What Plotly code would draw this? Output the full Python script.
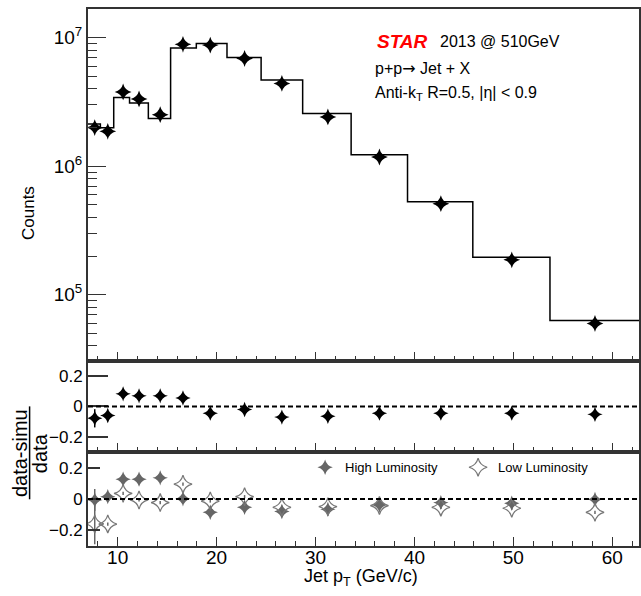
import plotly.graph_objects as go

# ---------------- data ----------------
bin_edges = [7.0, 8.25, 9.6, 11.2, 13.1, 15.35, 17.95, 21.05, 24.5, 28.7, 33.6, 39.3, 45.9, 53.7, 62.7]
simu_counts = [2.13e6, 1.99e6, 3.43e6, 3.11e6, 2.35e6, 8.31e6, 9.04e6, 7.03e6, 4.70e6, 2.57e6,
               1.23e6, 5.3e5, 1.96e5, 6.3e4]
jet_pt = [7.68, 9.0, 10.55, 12.16, 14.3, 16.6, 19.36, 22.83, 26.6, 31.25, 36.46, 42.67, 49.84, 58.25]
data_counts = [2.0e6, 1.87e6, 3.79e6, 3.34e6, 2.52e6, 8.89e6, 8.77e6, 6.90e6, 4.41e6, 2.42e6,
               1.18e6, 5.11e5, 1.87e5, 5.97e4]
ratio_all = [-0.078, -0.059, 0.083, 0.070, 0.070, 0.056, -0.044, -0.020, -0.070, -0.064,
             -0.044, -0.044, -0.044, -0.052]
ratio_all_err = [0.06, 0.01, 0.01, 0.01, 0.01, 0.01, 0.005, 0.005, 0.005, 0.005, 0.005, 0.005, 0.005, 0.005]
ratio_high = [-0.006, 0.015, 0.127, 0.127, 0.135, 0.002, -0.085, -0.053, -0.080, -0.066,
              -0.038, -0.023, -0.027, -0.002]
ratio_high_err = [0.07, 0.01, 0.01, 0.01, 0.01, 0.01, 0.01, 0.01, 0.01, 0.01, 0.01, 0.01, 0.01, 0.01]
ratio_low = [-0.159, -0.160, 0.036, -0.006, -0.023, 0.095, -0.013, 0.015, -0.053, -0.049,
             -0.042, -0.053, -0.059, -0.085]
ratio_low_err = [0.13, 0.01, 0.01, 0.01, 0.01, 0.01, 0.01, 0.01, 0.01, 0.01, 0.01, 0.01, 0.01, 0.01]

FONT = "Liberation Sans, Arial, Helvetica, sans-serif"
AX = "#333333"
GRAY = "#666666"
MS = 11

fig = go.Figure()

# histogram (simulation) as step line
hx = list(bin_edges)
hy = list(simu_counts) + [simu_counts[-1]]
fig.add_trace(go.Scatter(x=hx, y=hy, mode="lines", line=dict(color="black", width=1.5, shape="hv"),
                         xaxis="x", yaxis="y", showlegend=False, hoverinfo="skip"))
# data points
fig.add_trace(go.Scatter(x=jet_pt, y=data_counts, mode="markers",
                         marker=dict(symbol="star-diamond", size=MS + 1, color="black"),
                         xaxis="x", yaxis="y", showlegend=False))
# middle ratio
fig.add_trace(go.Scatter(x=jet_pt, y=ratio_all, mode="markers",
                         marker=dict(symbol="star-diamond", size=MS, color="black"),
                         error_y=dict(type="data", array=ratio_all_err, color="black", thickness=1.5, width=0),
                         xaxis="x2", yaxis="y2", showlegend=False))
# bottom ratios
fig.add_trace(go.Scatter(x=jet_pt, y=ratio_high, mode="markers", name="High Luminosity",
                         marker=dict(symbol="star-diamond", size=MS, color=GRAY),
                         error_y=dict(type="data", array=ratio_high_err, color=GRAY, thickness=1.5, width=0),
                         xaxis="x3", yaxis="y3", showlegend=True))
fig.add_trace(go.Scatter(x=jet_pt, y=ratio_low, mode="markers", name="Low Luminosity",
                         marker=dict(symbol="star-diamond-open", size=MS + 2, color="#777777",
                                     line=dict(width=1.2, color="#777777")),
                         error_y=dict(type="data", array=ratio_low_err, color=GRAY, thickness=1.5, width=0),
                         xaxis="x3", yaxis="y3", showlegend=True))

xr = [7.0, 62.7]
dom_bot = [0.0, 0.175]
dom_mid = [0.175, 0.3447]
dom_top = [0.3447, 1.0]

def xaxis(domain_anchor, show_labels):
    return dict(range=xr, anchor=domain_anchor, showline=True, mirror=True, linecolor=AX, linewidth=2,
                ticks="inside", ticklen=9, tickwidth=1, tickcolor=AX, tickvals=[10, 20, 30, 40, 50, 60],
                showticklabels=show_labels, showgrid=False, zeroline=False, automargin=False,
                ticklabelstandoff=-7,
                minor=dict(dtick=2, ticklen=5, ticks="inside", tickcolor=AX, tickwidth=1),
                tickfont=dict(family=FONT, size=19, color="black"))

minor_log = [m * 10 ** e for e in (4, 5, 6, 7) for m in range(2, 10)]

fig.update_layout(
    width=641, height=596,
    margin=dict(l=88, r=2, t=9, b=50, autoexpand=False),
    paper_bgcolor="white", plot_bgcolor="white",
    font=dict(family=FONT, color="black"),
    xaxis=xaxis("y", False),
    xaxis2=xaxis("y2", False),
    xaxis3=xaxis("y3", True),
    yaxis=dict(type="log", range=[4.485, 7.224], domain=dom_top, anchor="x",
               showline=True, mirror=True, linecolor=AX, linewidth=2,
               ticks="inside", ticklen=18, tickcolor=AX, tickwidth=1, automargin=False,
               tickvals=[1e5, 1e6, 1e7], ticktext=["10<sup>5</sup>", "10<sup>6</sup>", "10<sup>7</sup>"],
               minor=dict(tickvals=minor_log, ticklen=9, ticks="inside", tickcolor=AX, tickwidth=1),
               showgrid=False, zeroline=False, tickfont=dict(family=FONT, size=19, color="black")),
    yaxis2=dict(range=[-0.3, 0.3], domain=dom_mid, anchor="x2",
                showline=True, mirror=True, linecolor=AX, linewidth=2,
                ticks="inside", ticklen=20, tickcolor=AX, tickwidth=2, automargin=False,
                tickvals=[-0.2, 0, 0.2], ticktext=["\u22120.2", "0", "0.2"],
                showgrid=False, zeroline=False, tickfont=dict(family=FONT, size=17, color="black")),
    yaxis3=dict(range=[-0.3, 0.3], domain=dom_bot, anchor="x3",
                showline=True, mirror=True, linecolor=AX, linewidth=2,
                ticks="inside", ticklen=12, tickcolor=AX, tickwidth=2, automargin=False,
                tickvals=[-0.2, 0, 0.2], ticktext=["\u22120.2", "0", "0.2"],
                showgrid=False, zeroline=False, tickfont=dict(family=FONT, size=17, color="black")),
    legend=dict(orientation="h", x=0.394, xanchor="left", y=0.1466, yanchor="middle",
                bgcolor="rgba(0,0,0,0)", font=dict(family=FONT, size=13, color="black"),
                entrywidth=108, entrywidthmode="pixels", itemclick=False),
    showlegend=True,
)

# dashed zero lines
for xa, ya in (("x2", "y2"), ("x3", "y3")):
    fig.add_shape(type="line", xref=f"{xa} domain", yref=ya, x0=0, x1=1, y0=0, y1=0,
                  line=dict(color="black", width=2, dash="5px,3px"))

# fraction bar of ratio title
fig.add_shape(type="line", xref="paper", yref="paper", x0=-0.106, x1=-0.106, y0=0.087, y1=0.26,
              line=dict(color="black", width=1.5))

ann = [
    dict(text="<b><i>STAR</i></b>", x=0.521, y=0.939, font=dict(size=19, color="#ff0000")),
    dict(text="2013 @ 510GeV", x=0.635, y=0.939, font=dict(size=16)),
    dict(text="p+p<span style=\"font-family:DejaVu Sans\">\u2192</span> Jet + X", x=0.517, y=0.889,
         font=dict(size=16)),
    dict(text="Anti-k<sub>T</sub> R=0.5, |\u03b7| &lt; 0.9", x=0.517, y=0.843, font=dict(size=16)),
]
for a in ann:
    fig.add_annotation(xref="paper", yref="paper", xanchor="left", yanchor="middle", showarrow=False,
                       x=a["x"], y=a["y"], text=a["text"],
                       font=dict(family=FONT, size=a["font"]["size"], color=a["font"].get("color", "black")))

fig.add_annotation(xref="paper", yref="paper", x=-0.109, y=0.62, text="Counts", textangle=-90,
                   showarrow=False, xanchor="center", yanchor="middle", font=dict(family=FONT, size=17))
fig.add_annotation(xref="paper", yref="paper", x=-0.1234, y=0.173, text="data-simu", textangle=-90,
                   showarrow=False, xanchor="center", yanchor="middle", font=dict(family=FONT, size=20))
fig.add_annotation(xref="paper", yref="paper", x=-0.087, y=0.173, text="data", textangle=-90,
                   showarrow=False, xanchor="center", yanchor="middle", font=dict(family=FONT, size=20))
fig.add_annotation(xref="paper", yref="paper", x=0.496, y=-0.058, text="Jet p<sub>T</sub> (GeV/c)",
                   showarrow=False, xanchor="center", yanchor="middle", font=dict(family=FONT, size=18))

# remove the default page margin so the 641x596 figure fills the window exactly
fig.write_html("out.html", config={"displayModeBar": False},
               post_script="document.body.style.margin='0';")
